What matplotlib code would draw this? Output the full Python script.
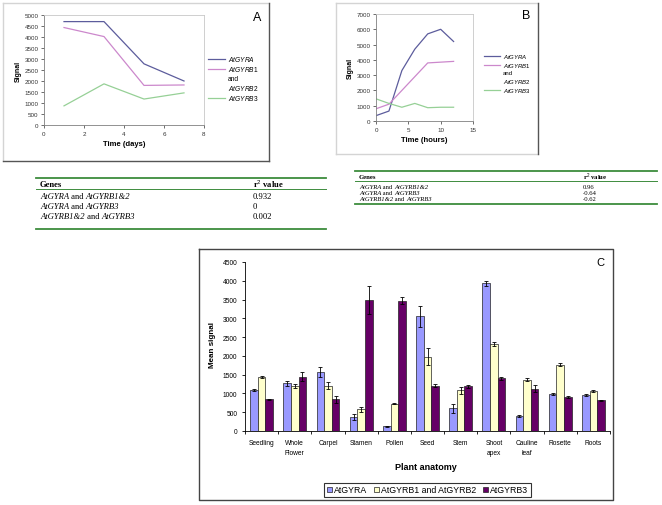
import numpy as np
import matplotlib
matplotlib.use("Agg")
import matplotlib.pyplot as plt
from matplotlib.lines import Line2D

plt.rcParams['font.family'] = ['Liberation Sans', 'DejaVu Sans']
plt.rcParams['mathtext.fontset'] = 'custom'
plt.rcParams['mathtext.it'] = 'Liberation Sans:italic'
plt.rcParams['mathtext.rm'] = 'Liberation Sans'

# ---- data: panel A (time in days)
days = [1, 3, 5, 7]
a_gyra = [4700, 4700, 2780, 2000]
a_gyrb12 = [4430, 4020, 1800, 1820]
a_gyrb3 = [870, 1870, 1180, 1460]

# ---- data: panel B (time in hours)
hours = [0, 2, 4, 6, 8, 10, 12]
b_gyra = [350, 650, 3300, 4700, 5700, 6000, 5200]
b_gyrb12 = [800, 1100, 2000, 2900, 3800, 3850, 3900]
b_gyrb3 = [1450, 1150, 900, 1150, 870, 900, 900]

# ---- correlation tables
pairs = [("AtGYRA", "AtGYRB1&2"), ("AtGYRA", "AtGYRB3"), ("AtGYRB1&2", "AtGYRB3")]
t1_r2 = ["0.932", "0", "0.002"]
t2_r2 = ["0.96", "-0.64", "-0.62"]

# ---- data: panel C (plant anatomy)
tissues = ["Seedling", "Whole\nFlower", "Carpel", "Stamen", "Pollen", "Seed",
           "Stem", "Shoot\napex", "Cauline\nleaf", "Rosette", "Roots"]
gyra = [1100, 1270, 1570, 370, 120, 3050, 600, 3930, 400, 985, 950]
gyra_err = [30, 70, 140, 80, 20, 270, 130, 70, 35, 35, 30]
gyrb12 = [1430, 1200, 1210, 580, 730, 1980, 1080, 2320, 1365, 1770, 1055]
gyrb12_err = [30, 60, 90, 70, 15, 220, 100, 50, 40, 30, 25]
gyrb3 = [840, 1450, 840, 3490, 3470, 1210, 1195, 1400, 1125, 905, 815]
gyrb3_err = [15, 120, 90, 380, 100, 50, 40, 40, 90, 25, 20]

W, H = 662, 506
c_gyra, c_b12, c_b3 = '#5c5c9c', '#cc88cc', '#96d096'
green = '#3d8c3d'


def box(x0, y0, x1, y1):
    # pixel box (top-left origin) -> figure rect
    return [x0 / W, 1 - y1 / H, (x1 - x0) / W, (y1 - y0) / H]


fig = plt.figure(figsize=(6.62, 5.06), dpi=100)

# overlay in pixel coordinates for frames, tables and panel letters
ov = fig.add_axes([0, 0, 1, 1])
ov.set_xlim(0, W)
ov.set_ylim(H, 0)
ov.axis('off')
ov.set_zorder(5)

light, dark = '#d4d4d4', '#555555'
# frame A
ov.plot([3, 269], [4, 4], color=light, lw=1)
ov.plot([3, 3], [4, 162], color=light, lw=1)
ov.plot([269, 269], [4, 162], color=dark, lw=1)
ov.plot([3, 269], [162, 162], color=dark, lw=1)
# frame B
ov.plot([336, 538], [4, 4], color=light, lw=1)
ov.plot([336, 336], [4, 155], color=light, lw=1)
ov.plot([336, 538], [155, 155], color=light, lw=1)
ov.plot([538, 538], [4, 155], color=dark, lw=1)
# frame C
ov.plot([199, 613, 613, 199, 199], [250, 250, 501, 501, 250], color='#444444', lw=1)

ov.text(257, 18, "A", fontsize=9, ha='center', va='center')
ov.text(526, 16, "B", fontsize=9, ha='center', va='center')
ov.text(600, 263, "C", fontsize=8, ha='center', va='center')


def table(x0, x1, xr, ys, r2, size):
    top, head, sep, rows, bot = ys
    ov.plot([x0, x1], [top, top], color=green, lw=1.3)
    ov.plot([x0, x1], [sep, sep], color=green, lw=0.7)
    ov.plot([x0, x1], [bot, bot], color=green, lw=1.3)
    ov.text(x0 + 4, head, "Genes", fontsize=size, family='Liberation Serif',
            weight='bold', va='center')
    ov.text(xr, head, r"r$^2$ value", fontsize=size, family='Liberation Serif',
            weight='bold', va='center')
    for (g1, g2), y, v in zip(pairs, rows, r2):
        t = ov.text(x0 + 4, y, g1, fontsize=size, family='Liberation Serif',
                    style='italic', va='center')
        t = ov.annotate(" and ", xy=(1, 0), xycoords=t, va='bottom',
                        fontsize=size, family='Liberation Serif')
        ov.annotate(g2, xy=(1, 0), xycoords=t, va='bottom', fontsize=size,
                    family='Liberation Serif', style='italic')
        ov.text(xr, y, v, fontsize=size, family='Liberation Serif', va='center')


table(36, 326, 253, (179, 184.5, 189.5, (197, 207, 217), 230), t1_r2, 6.2)
table(355, 657, 583, (171.5, 177, 181.5, (187, 193.3, 199.6), 205), t2_r2, 4.8)


def line_panel(rect, x, ys, xmax, xticks, ymax, ystep, xlabel):
    ax = fig.add_axes(rect)
    for y, c in zip(ys, [c_gyra, c_b12, c_b3]):
        ax.plot(x, y, color=c, lw=0.9)
    ax.set_xlim(0, xmax)
    ax.set_ylim(0, ymax)
    ax.set_xticks(xticks)
    ax.set_yticks(np.arange(0, ymax + 1, ystep))
    ax.tick_params(labelsize=4.5, length=2, width=0.5, pad=2, colors='#333333')
    for s in ax.spines.values():
        s.set_linewidth(0.6)
        s.set_color('#c8c8c8')
    ax.spines['left'].set_color('#808080')
    ax.spines['bottom'].set_color('#808080')
    ax.set_xlabel(xlabel, fontsize=5.5, weight='bold', labelpad=3)
    ax.set_ylabel("Signal", fontsize=5, weight='bold', labelpad=2)
    return ax


axA = line_panel(box(44, 16, 204, 126), days, [a_gyra, a_gyrb12, a_gyrb3],
                 8, [0, 2, 4, 6, 8], 5000, 500, "Time (days)")
axB = line_panel(box(376, 15, 473, 122), hours, [b_gyra, b_gyrb12, b_gyrb3],
                 15, [0, 5, 10, 15], 7000, 1000, "Time (hours)")

leg_handles = [Line2D([], [], color=c_gyra, lw=0.9),
               Line2D([], [], color=c_b12, lw=0.9),
               Line2D([], [], color='none'),
               Line2D([], [], color=c_b3, lw=0.9)]
leg_labels = [r"$\mathit{AtGYRA}$", r"$\mathit{AtGYRB1}$",
              "and\n" + r"$\mathit{AtGYRB2}$", r"$\mathit{AtGYRB3}$"]
axA.legend(leg_handles, leg_labels, loc='upper left',
           bbox_to_anchor=(208 / W, 1 - 55 / H), bbox_transform=fig.transFigure,
           frameon=False, fontsize=4.8, handlelength=2.5, handletextpad=0.5,
           labelspacing=0.2, borderpad=0, borderaxespad=0)
axB.legend(leg_handles, leg_labels, loc='upper left',
           bbox_to_anchor=(484 / W, 1 - 53 / H), bbox_transform=fig.transFigure,
           frameon=False, fontsize=4.3, handlelength=2.7, handletextpad=0.5,
           labelspacing=0.2, borderpad=0, borderaxespad=0)

# ---- panel C
axC = fig.add_axes(box(245, 263, 610, 432))
x = np.arange(len(tissues))
w = 0.23
ekw = dict(ecolor='black', elinewidth=0.6, capsize=1.6, capthick=0.6)
axC.bar(x - w, gyra, w, yerr=gyra_err, color='#9999ff', edgecolor='#222222',
        linewidth=0.5, error_kw=ekw, label='AtGYRA')
axC.bar(x, gyrb12, w, yerr=gyrb12_err, color='#ffffcc', edgecolor='#222222',
        linewidth=0.5, error_kw=ekw, label='AtGYRB1 and AtGYRB2')
axC.bar(x + w, gyrb3, w, yerr=gyrb3_err, color='#660066', edgecolor='#222222',
        linewidth=0.5, error_kw=ekw, label='AtGYRB3')
axC.set_xlim(-0.5, len(tissues) - 0.5)
axC.set_ylim(0, 4500)
axC.set_yticks(np.arange(0, 4501, 500))
axC.set_xticks(np.arange(-0.5, len(tissues), 1.0))
axC.set_xticklabels([])
axC.set_xticks(x, minor=True)
axC.set_xticklabels(tissues, minor=True, fontsize=4.8, linespacing=1.5)
axC.tick_params(axis='x', which='minor', length=0, pad=6)
axC.tick_params(axis='both', which='major', length=2.5, width=0.6, labelsize=4.8, pad=3)
for s in ['top', 'right']:
    axC.spines[s].set_visible(False)
for s in ['left', 'bottom']:
    axC.spines[s].set_linewidth(0.6)
ov.text(212, 345, "Mean signal", fontsize=5.8, weight='bold', rotation=90,
        ha='center', va='center')
ov.text(426, 468, "Plant anatomy", fontsize=6.5, weight='bold', ha='center', va='center')
leg = axC.legend(loc='center', bbox_to_anchor=(427.5 / W, 1 - 491 / H),
                 bbox_transform=fig.transFigure, ncol=3, fontsize=6.3,
                 frameon=True, fancybox=False, edgecolor='black',
                 handlelength=0.6, handleheight=0.6, handletextpad=0.2,
                 columnspacing=0.8, borderpad=0.3, borderaxespad=0)
leg.get_frame().set_linewidth(0.8)

fig.savefig("out.png", dpi=100)
